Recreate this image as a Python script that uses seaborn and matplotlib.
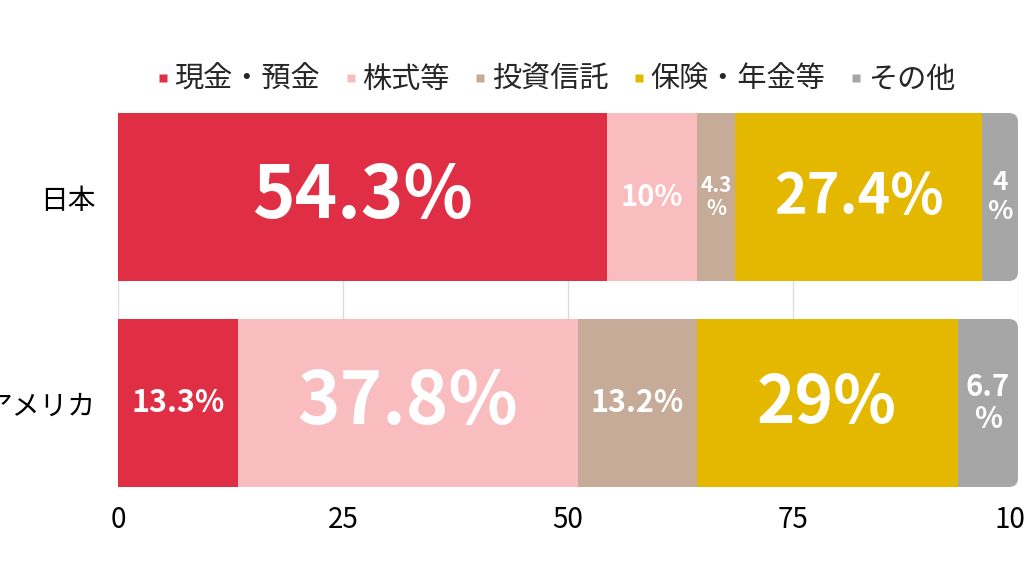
import seaborn as sns
import pandas as pd
import numpy as np
import matplotlib.pyplot as plt
from matplotlib.patches import FancyBboxPatch
from matplotlib.lines import Line2D

# datos del grafico
paises = ['日本', 'アメリカ']
tipos = ['現金・預金', '株式等', '投資信託', '保険・年金等', 'その他']
valores_japon = [54.3, 10, 4.3, 27.4, 4]
valores_usa = [13.3, 37.8, 13.2, 29, 6.7]
ticks_x = [0, 25, 50, 75, 100]

# estilo
colores = ['#E02F45', '#F9BCBF', '#C5AB98', '#E5B800', '#A6A6A6']
# tamano de letra de cada etiqueta (pt), por pais y tipo
tamanos = [[52, 21, 15, 40, 19],
           [22, 52, 22, 47, 21]]

sns.set_theme(style='white')
plt.rcParams['font.family'] = ['Noto Sans CJK JP', 'DejaVu Sans']

df = pd.DataFrame({
    'pais': np.repeat(paises, len(tipos)),
    'tipo': tipos * len(paises),
    'valor': valores_japon + valores_usa,
})
df['acumulado'] = df.groupby('pais', sort=False)['valor'].cumsum()

fig, ax = plt.subplots(figsize=(10.24, 5.76), dpi=100)
fig.subplots_adjust(left=0.1152, right=0.9941, bottom=0.1545, top=0.8038)
alto = 0.8155

# barras apiladas: se dibuja del acumulado mayor al menor
for i in reversed(range(len(tipos))):
    sub = df[df['tipo'] == tipos[i]]
    sns.barplot(data=sub, x='acumulado', y='pais', order=paises, color=colores[i],
                orient='h', width=alto, saturation=1, errorbar=None,
                linewidth=0, ax=ax, zorder=2)
    if i == len(tipos) - 1:
        # la ultima barra con esquinas redondeadas
        for p in list(ax.containers[0]):
            x0, y0, w, h = p.get_x(), p.get_y(), p.get_width(), p.get_height()
            p.remove()
            ax.add_patch(FancyBboxPatch((x0, y0), w, h,
                                        boxstyle='round,pad=0,rounding_size=1.0',
                                        mutation_aspect=0.0437, fc=colores[i],
                                        ec='none', zorder=1.5))

# etiquetas de porcentaje
for _, fila in df.iterrows():
    r = paises.index(fila['pais'])
    c = tipos.index(fila['tipo'])
    txt = f"{fila['valor']:g}%"
    if fila['valor'] < 8:
        txt = f"{fila['valor']:g}\n%"
    ax.text(fila['acumulado'] - fila['valor'] / 2, r, txt, ha='center', va='center',
            color='white', fontsize=tamanos[r][c], fontweight='bold',
            linespacing=1.1, zorder=3)

ax.set_xlim(0, 100)
ax.set_ylim(1 + alto / 2, -alto / 2)
ax.set_xticks(ticks_x)
ax.grid(axis='x', color='#DDDDDD', linewidth=1)
ax.set_axisbelow(True)
ax.set_xlabel('')
ax.set_ylabel('')
for s in ax.spines.values():
    s.set_visible(False)
ax.tick_params(axis='x', length=0, pad=13, labelsize=20, labelcolor='black')
ax.tick_params(axis='y', length=0, pad=16, labelsize=20, labelcolor='black')

# leyenda
handles = [Line2D([], [], marker='s', linestyle='none', markersize=6,
                  markerfacecolor=col, markeredgecolor='none') for col in colores]
fig.legend(handles, tipos, loc='center', bbox_to_anchor=(556 / 1024, 1 - 80 / 576),
           ncol=5, frameon=False, fontsize=21, handlelength=0.4, handletextpad=0.2,
           columnspacing=0.85, borderpad=0)

plt.savefig('out.png', dpi=100)
plt.close()
